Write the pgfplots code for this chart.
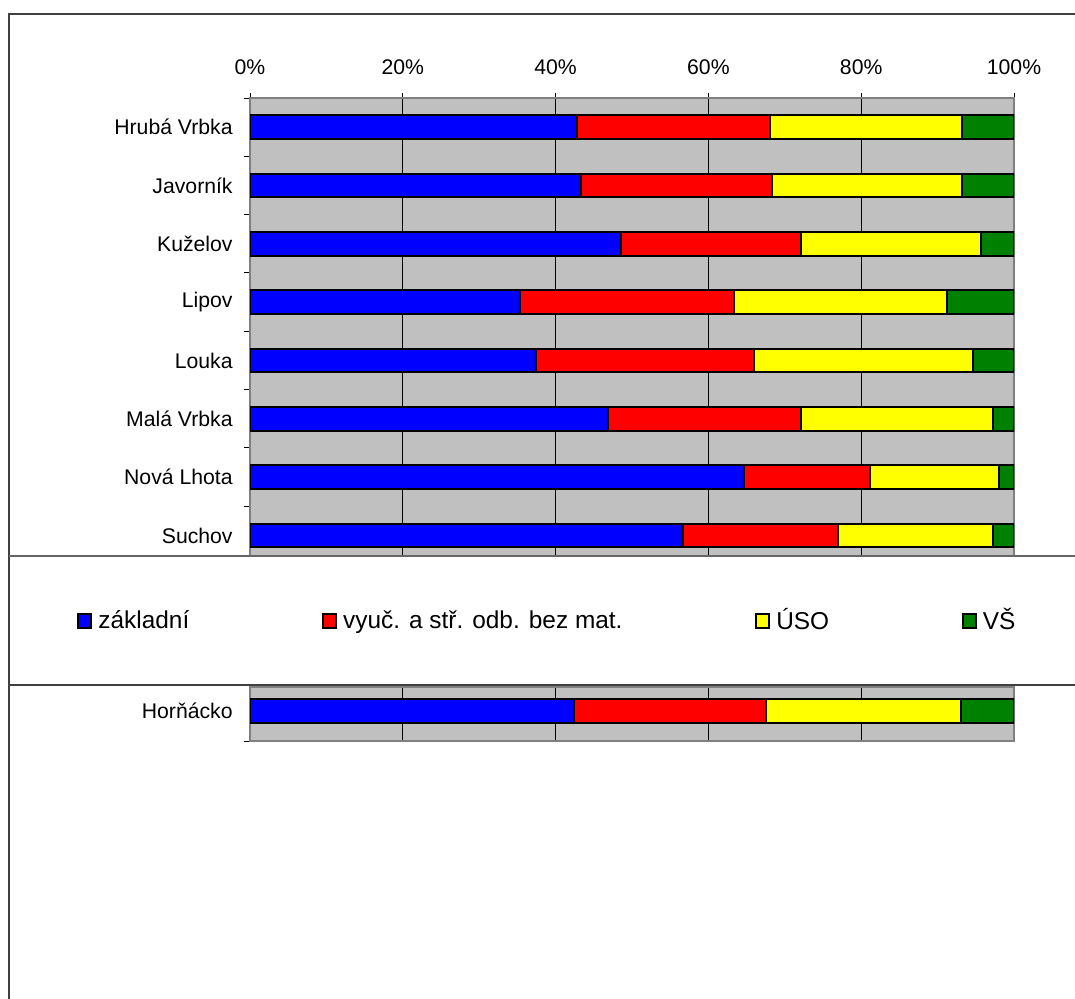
\documentclass[border=0pt]{standalone}
\usepackage{fontspec}
\setmainfont{Liberation Sans}
\usepackage{pgfplots}
\usepackage{pgfplotstable}
\pgfplotsset{compat=1.18}

\definecolor{cblue}{HTML}{0000FF}
\definecolor{cred}{HTML}{FF0000}
\definecolor{cyellow}{HTML}{FFFF00}
\definecolor{cgreen}{HTML}{008000}
\definecolor{plotbg}{HTML}{C0C0C0}
\definecolor{framec}{HTML}{404040}

% shares of education levels (%)
\pgfplotstableread{
pos zakl vyuc uso vs
1 42.8 25.2 25.2 6.8
2 43.3 25.0 24.9 6.8
3 48.6 23.5 23.6 4.3
4 35.4 27.9 27.9 8.8
5 37.4 28.6 28.6 5.4
6 46.9 25.2 25.2 2.7
7 64.6 16.6 16.8 2.0
8 56.7 20.3 20.3 2.7
}\obce

\pgfplotstableread{
pos zakl vyuc uso vs
1 42.4 25.1 25.6 6.9
}\hornacko

\pgfplotsset{
  common/.style={
    scale only axis, width=382pt,
    xmin=0, xmax=100, y dir=reverse,
    xbar stacked, bar width=11.75pt,
    axis background/.style={fill=plotbg},
    axis line style={draw=black!50, line width=1pt},
    xmajorgrids, grid style={black, line width=0.5pt},
    xtick={0,20,...,100},
    major tick length=2.5pt, minor tick length=3pt,
    tick align=outside,
    tick style={black, line width=0.5pt},
    major y tick style={draw=none},
    ytick pos=left,
    yticklabel style={inner xsep=0pt, xshift=-6pt},
  },
  seg/.style={draw=black, line width=1pt, fill=#1},
}

\begin{document}
\fontsize{10.6pt}{12.7pt}\selectfont
\begin{tikzpicture}[x=0.5pt, y=-0.5pt]
\useasboundingbox (0,0) rectangle (1075,999);
\coordinate (topaxis) at (250,98);
\coordinate (botaxis) at (250,687);

\begin{axis}[common,
  at={(topaxis)}, anchor=north west,
  height=233.3pt,
  ymin=0.5, ymax=8.5,
  ytick={1,...,8},
  yticklabels={Hrubá Vrbka,Javorník,Kuželov,Lipov,Louka,Malá Vrbka,Nová Lhota,Suchov},
  minor ytick={0.5,1.5,...,8.5},
  xtick pos=right, xticklabel pos=right,
  xticklabels={0\%,20\%,40\%,60\%,80\%,100\%},
  xticklabel style={yshift=5.5pt},
]
\addplot[seg=cblue] table[x=zakl, y=pos] {\obce};
\addplot[seg=cred] table[x=vyuc, y=pos] {\obce};
\addplot[seg=cyellow] table[x=uso, y=pos] {\obce};
\addplot[seg=cgreen] table[x=vs, y=pos] {\obce};
\end{axis}

\fill[white] (9,556) rectangle (1075,685);
\draw[framec, line width=0.8pt] (9,999) -- (9,14) -- (1075,14);
\draw[black!60, line width=0.8pt] (9,556) -- (1075,556);
\draw[framec, line width=0.8pt] (9,685) -- (1075,685);

\begin{axis}[common,
  at={(botaxis)}, anchor=north west,
  height=27pt,
  ymin=0.556, ymax=1.556,
  ytick={1}, yticklabels={Horňácko},
  minor ytick={1.556},
  xticklabels={}, xtick style={draw=none},
  legend columns=4,
  legend style={at={(-0.2264,2.226)}, anchor=west, draw=none, fill=none,
    inner sep=0pt, font=\fontsize{12.2pt}{14pt}\selectfont,
    nodes={inner xsep=3pt, inner ysep=0pt},
    /tikz/every even column/.append style={column sep=63.4pt}},
  legend image code/.code={\draw[#1, draw=black, line width=1pt] (0pt,-3.5pt) rectangle (6.5pt,3.5pt);},
]
\addplot[seg=cblue] table[x=zakl, y=pos] {\hornacko};
\addlegendentry{základní}
\addplot[seg=cred] table[x=vyuc, y=pos] {\hornacko};
\addlegendentry{vyuč. a stř. odb. bez mat.}
\addplot[seg=cyellow] table[x=uso, y=pos] {\hornacko};
\addlegendentry{ÚSO}
\addplot[seg=cgreen] table[x=vs, y=pos] {\hornacko};
\addlegendentry{VŠ}
\end{axis}
\end{tikzpicture}
\end{document}
